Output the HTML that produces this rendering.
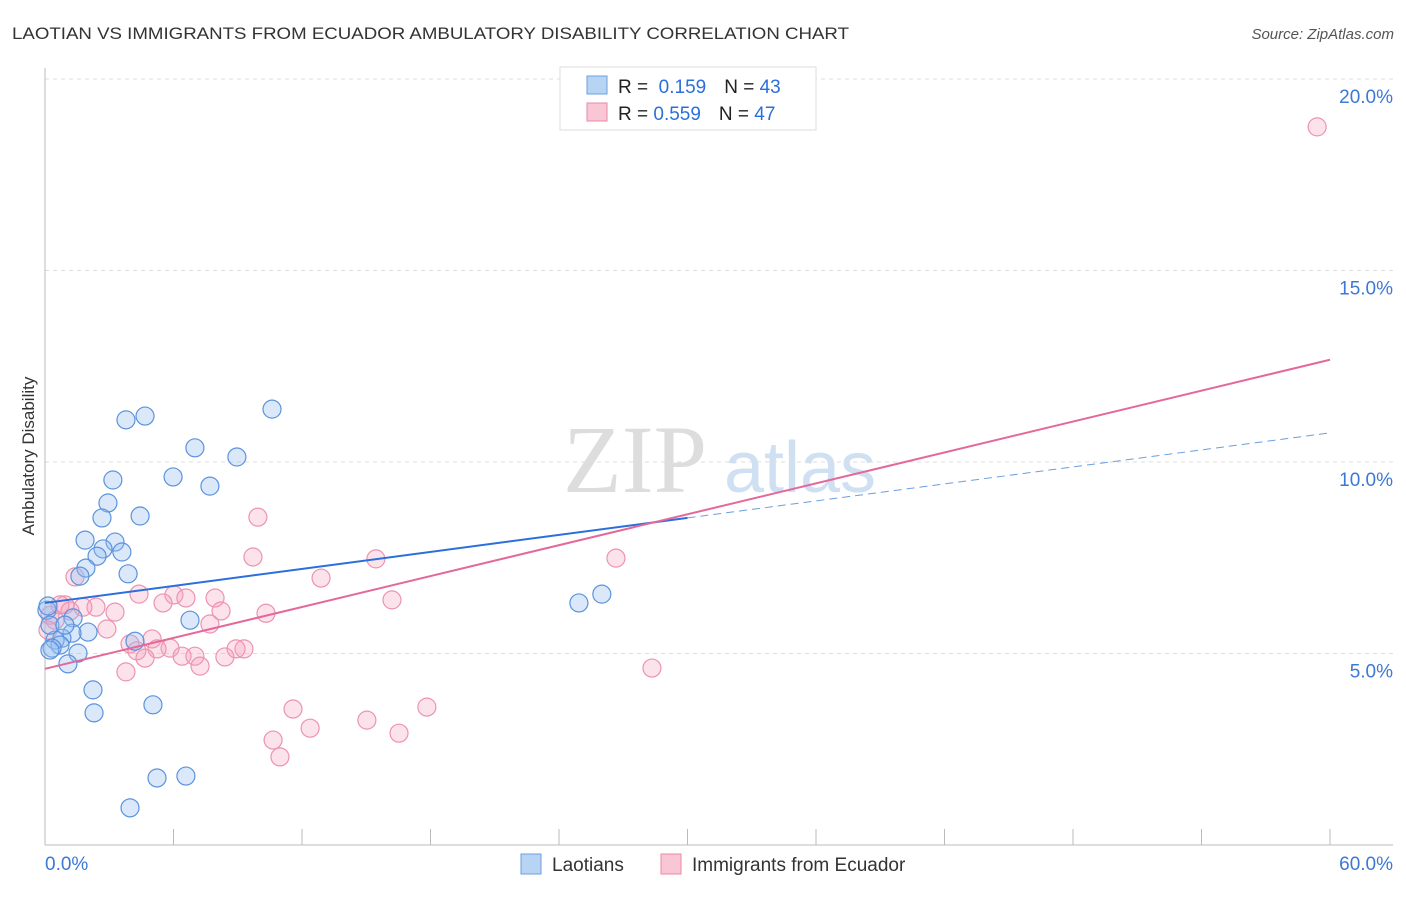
<!DOCTYPE html>
<html><head><meta charset="utf-8"><style>
body{margin:0;background:#fff;font-family:"Liberation Sans",sans-serif}
</style></head><body>
<svg width="1406" height="892" xmlns="http://www.w3.org/2000/svg" id="svg" font-family="Liberation Sans, sans-serif">
<text x="12" y="39" font-size="17" fill="#333" textLength="837" lengthAdjust="spacingAndGlyphs">LAOTIAN VS IMMIGRANTS FROM ECUADOR AMBULATORY DISABILITY CORRELATION CHART</text>
<text x="1394" y="39" font-size="15" fill="#555" font-style="italic" text-anchor="end">Source: ZipAtlas.com</text>
<text x="635" y="492" font-size="96" fill="#ddd" font-family="Liberation Serif, serif" text-anchor="middle">ZIP</text>
<text x="800" y="492" font-size="72" fill="#cfe0f2" text-anchor="middle">atlas</text>
<text x="34" y="456" font-size="17" fill="#333" text-anchor="middle" transform="rotate(-90 34 456)">Ambulatory Disability</text>
<g id="grid"></g><g id="marks"></g>
<g>
<rect x="560" y="67" width="256" height="63" fill="#fff" stroke="#ddd"/>
<rect x="587" y="76" width="20" height="18" fill="#b8d4f5" stroke="#6a9fe0"/>
<rect x="587" y="103" width="20" height="18" fill="#f9c6d5" stroke="#e98aa8"/>
<text x="618" y="93" font-size="19" fill="#222">R = <tspan fill="#2a6fdb">&#160;0.159</tspan><tspan dx="18">N = </tspan><tspan fill="#2a6fdb">43</tspan></text>
<text x="618" y="120" font-size="19" fill="#222">R = <tspan fill="#2a6fdb">0.559</tspan><tspan dx="18">N = </tspan><tspan fill="#2a6fdb">47</tspan></text>
</g>
<g>
<rect x="521" y="854" width="20" height="20" fill="#b8d4f5" stroke="#6a9fe0"/>
<text x="552" y="871" font-size="19" fill="#333">Laotians</text>
<rect x="661" y="854" width="20" height="20" fill="#f9c6d5" stroke="#e98aa8"/>
<text x="692" y="871" font-size="19" fill="#333">Immigrants from Ecuador</text>
</g>
</svg>
<script>
const yTicks=[5,10,15,20];
const yTickLabels=["5.0%","10.0%","15.0%","20.0%"];
const xTickLabels=["0.0%","60.0%"];
const blueX=[3.78,4.67,10.6,7.0,8.96,5.98,7.7,3.17,2.94,2.66,4.44,3.27,2.71,3.59,1.87,2.43,1.91,1.63,3.88,6.77,1.31,2.01,1.26,0.79,0.47,0.7,0.33,0.23,1.54,1.07,2.24,2.29,5.04,5.23,6.58,3.97,24.93,26.0,0.09,0.23,0.93,4.2,0.14];
const blueY=[11.1,11.2,11.38,10.37,10.13,9.61,9.37,9.53,8.93,8.54,8.59,7.91,7.73,7.65,7.96,7.54,7.23,7.02,7.08,5.87,5.93,5.56,5.53,5.4,5.35,5.22,5.14,5.09,5.01,4.73,4.05,3.45,3.66,1.75,1.8,0.97,6.32,6.55,6.13,5.74,5.74,5.32,6.24];
const pinkX=[59.4,9.94,9.71,15.45,26.66,1.4,12.89,4.39,6.02,6.58,7.94,5.51,16.2,2.38,3.27,8.22,0.93,1.77,10.32,7.7,2.89,5.0,3.97,5.84,5.23,9.29,8.92,4.29,6.4,7.0,8.4,4.67,7.24,3.78,28.34,11.58,15.03,17.83,12.38,10.65,16.53,10.97,0.23,0.47,0.7,0.14,1.17];
const pinkY=[18.75,8.56,7.52,7.47,7.49,7.0,6.97,6.55,6.53,6.45,6.45,6.32,6.4,6.21,6.08,6.11,6.27,6.21,6.05,5.77,5.64,5.38,5.25,5.14,5.12,5.12,5.12,5.07,4.93,4.93,4.91,4.88,4.67,4.52,4.62,3.55,3.26,3.6,3.05,2.74,2.92,2.3,6.0,5.87,6.27,5.61,6.11];
const blueLine=[6.32,0.074,30.0];
const pinkLine=[4.60,0.1345];
const X=v=>45+v*1285/60, Y=v=>845-v*38.3;
const NS="http://www.w3.org/2000/svg";
const grid=document.getElementById('grid'), marks=document.getElementById('marks');
function mk(tag,a,p){const e=document.createElementNS(NS,tag);for(const k in a)e.setAttribute(k,a[k]);p.appendChild(e);return e;}
yTicks.forEach((t,i)=>{
 const g=mk('line',{x1:45,x2:1393,y1:Y(t),y2:Y(t),stroke:'#ddd','stroke-dasharray':'4,4'},grid);
 
 
 const l=mk('text',{x:1393,y:Y(t)+24,'font-size':19,fill:'#3d78d6','text-anchor':'end'},grid);
 l.textContent=yTickLabels[i];
 
 
});
const topGrid=mk('line',{x1:45,x2:1393,y1:79,y2:79,stroke:'#ddd','stroke-dasharray':'4,4'},grid);


const ya=mk('line',{x1:45,x2:45,y1:68,y2:845,stroke:'#bbb'},grid);


const xa=mk('line',{x1:45,x2:1393,y1:845,y2:845,stroke:'#bbb'},grid);


for(let i=0;i<=10;i++){const t=mk('line',{x1:X(i*6),x2:X(i*6),y1:829,y2:845,stroke:'#bbb'},grid);
 
 }
[[0,45,'start'],[60,1393,'end']].forEach((d,i)=>{const l=mk('text',{x:d[1],y:870,'font-size':19,fill:'#3d78d6','text-anchor':d[2]},grid);l.textContent=xTickLabels[i];
 
 });
pinkX.forEach((x,i)=>{const c=mk('circle',{cx:X(x),cy:Y(pinkY[i]),r:9,fill:'rgba(244,160,188,0.3)',stroke:'#ec93b0','stroke-width':1.2},marks);
 
 });
blueX.forEach((x,i)=>{const c=mk('circle',{cx:X(x),cy:Y(blueY[i]),r:9,fill:'rgba(150,190,240,0.35)',stroke:'#5b93dd','stroke-width':1.2},marks);
 
 });
const bl=mk('line',{x1:X(0),y1:Y(blueLine[0]),x2:X(blueLine[2]),y2:Y(blueLine[0]+blueLine[1]*blueLine[2]),stroke:'#2a6fdb','stroke-width':2},marks);


const bd=mk('line',{x1:X(blueLine[2]),y1:Y(blueLine[0]+blueLine[1]*blueLine[2]),x2:X(60),y2:Y(blueLine[0]+blueLine[1]*60),stroke:'#6a9fe0','stroke-width':1,'stroke-dasharray':'8,5'},marks);


const pl=mk('line',{x1:X(0),y1:Y(pinkLine[0]),x2:X(60),y2:Y(pinkLine[0]+pinkLine[1]*60),stroke:'#e4689a','stroke-width':2},marks);


</script>
</body></html>
